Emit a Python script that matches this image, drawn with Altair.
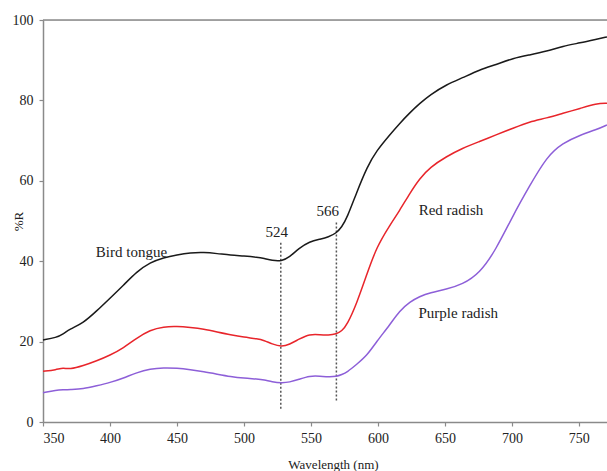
import altair as alt
import pandas as pd

# Wavelength grid (nm)
wavelength = [350, 360, 365, 370, 380, 390, 400, 410, 420, 430, 440, 450, 460, 470, 480,
              490, 500, 510, 515, 521, 528, 534, 541, 549, 557, 563, 569, 573, 577, 584,
              592, 599, 609, 616, 624, 631, 639, 651, 663, 676, 688, 701, 713, 726, 738,
              751, 763, 771]

bird_tongue = [20.4, 21.0, 21.9, 23.1, 24.6, 27.6, 30.8, 34.0, 37.4, 39.7, 40.9, 41.6, 42.1,
               42.2, 41.9, 41.5, 41.3, 41.0, 40.7, 40.2, 40.0, 41.0, 43.2, 44.9, 45.5, 46.0,
               47.0, 48.5, 50.8, 57.0, 63.5, 67.5, 71.5, 74.2, 77.0, 79.2, 81.4, 83.9, 85.6,
               87.6, 88.9, 90.5, 91.3, 92.2, 93.5, 94.3, 95.2, 95.8]

red_radish = [12.6, 13.0, 13.5, 13.1, 14.0, 15.2, 16.6, 18.4, 20.9, 22.9, 23.7, 23.8, 23.5,
              23.1, 22.4, 21.7, 21.1, 20.7, 20.3, 19.4, 18.7, 19.3, 20.6, 21.9, 21.7, 21.6,
              21.9, 22.6, 24.2, 29.3, 37.0, 43.5, 49.0, 52.5, 57.0, 60.5, 63.4, 66.0, 68.1,
              69.8, 71.4, 73.1, 74.7, 75.6, 76.8, 78.0, 79.2, 79.3]

purple_radish = [7.3, 7.9, 8.0, 8.1, 8.2, 9.0, 9.8, 10.9, 12.3, 13.2, 13.5, 13.4, 13.0,
                 12.5, 11.9, 11.3, 10.9, 10.7, 10.5, 10.0, 9.7, 9.9, 10.6, 11.5, 11.4, 11.2,
                 11.3, 11.8, 12.4, 14.3, 16.6, 20.0, 24.2, 27.6, 29.9, 31.2, 32.2, 33.0, 34.2,
                 37.0, 42.8, 51.5, 58.6, 66.0, 69.4, 71.4, 72.7, 73.9]

series_names = ["Bird tongue", "Red radish", "Purple radish"]
series_colors = ["#1a1a1a", "#e8252b", "#8d5fd8"]

# Dashed marker lines
marker_x = [527.5, 569.0]
marker_top = [44.6, 49.6]
marker_bottom = [3.1, 5.3]

# Text annotations
label_text = ["Bird tongue", "524", "566", "Red radish", "Purple radish"]
label_x = [416, 524.4, 562.5, 654.5, 660]
label_y = [42.4, 47.2, 52.5, 52.8, 27.1]

x_ticks = [350, 400, 450, 500, 550, 600, 650, 700, 750]
y_ticks = [0, 20, 40, 60, 80, 100]

FONT = "Liberation Serif"
AX = "#8a8a8a"

rows = []
for name, vals in zip(series_names, [bird_tongue, red_radish, purple_radish]):
    for w, v in zip(wavelength, vals):
        rows.append({"series": name, "wl": w, "r": v})
df = pd.DataFrame(rows)

xscale = alt.Scale(domain=[350, 771], nice=False, zero=False)
yscale = alt.Scale(domain=[0, 100], nice=False)

xaxis = alt.Axis(values=x_ticks, grid=False, domainColor=AX, domainWidth=1.5, tickColor=AX,
                 tickSize=4, tickWidth=1.2, labelFont=FONT, labelFontSize=14, labelColor="#222",
                 labelPadding=5, title="Wavelength (nm)", titleFont=FONT, titleFontSize=13,
                 titleFontWeight="normal", titleColor="#222", titleX=290, titleY=42,
                 titleBaseline="middle", titleAlign="center")
yaxis = alt.Axis(values=y_ticks, grid=False, domainColor=AX, domainWidth=1.5, tickColor=AX,
                 tickSize=4, tickWidth=1.2, labelFont=FONT, labelFontSize=14, labelColor="#222",
                 labelPadding=6, title="%R", titleFont=FONT, titleFontSize=13,
                 titleFontWeight="normal", titleColor="#222", titleX=-25, titleY=201,
                 titleAngle=-90, titleBaseline="middle", titleAlign="center")

lines = alt.Chart(df).mark_line(strokeWidth=1.5, interpolate="basis").encode(
    x=alt.X("wl:Q", scale=xscale, axis=xaxis),
    y=alt.Y("r:Q", scale=yscale, axis=yaxis),
    color=alt.Color("series:N", scale=alt.Scale(domain=series_names, range=series_colors),
                    legend=None),
    detail="series:N",
)

top_rule = alt.Chart(pd.DataFrame({"v": [100]})).mark_rule(color=AX, strokeWidth=1.5).encode(
    y=alt.Y("v:Q", scale=yscale)
)

mk = pd.DataFrame({"x": marker_x, "top": marker_top, "bottom": marker_bottom})
markers = alt.Chart(mk).mark_rule(color="#555555", strokeWidth=1.5, strokeDash=[2, 2]).encode(
    x=alt.X("x:Q", scale=xscale),
    y=alt.Y("top:Q", scale=yscale),
    y2="bottom:Q",
)

lb = pd.DataFrame({"t": label_text, "x": label_x, "y": label_y})
labels = alt.Chart(lb).mark_text(font=FONT, fontSize=15, color="#222", align="center",
                                 baseline="middle").encode(
    x=alt.X("x:Q", scale=xscale),
    y=alt.Y("y:Q", scale=yscale),
    text="t:N",
)

chart = alt.layer(top_rule, markers, lines, labels).properties(
    width=564, height=402,
    autosize=alt.AutoSizeParams(type="none"),
    padding={"left": 43, "top": 20, "right": 0, "bottom": 49},
).configure_view(stroke=None).configure(background="white")

chart.save("out.html", embed_options={"renderer": "svg", "actions": False})
